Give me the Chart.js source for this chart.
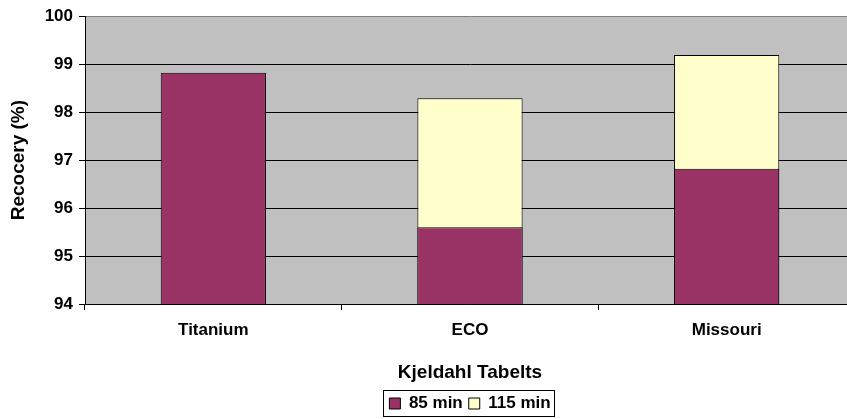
<!DOCTYPE html>
<html lang="en">
<head>
    <meta charset="UTF-8">
    <title>Recovery</title>
    <script src="https://cdn.jsdelivr.net/npm/chart.js"></script>
    <style>
        body { margin: 0; overflow: hidden; background: #fff; }
        #wrap { width: 855px; height: 419px; position: relative; }
    </style>
</head>
<body>
<div id="wrap"><canvas id="recoveryChart"></canvas></div>

<script>
    var tablets = ["Titanium", "ECO", "Missouri"];
    var min85 = [98.82, 95.6, 96.82];
    var min115 = [null, 98.29, 99.19];
    var yTicks = [94, 95, 96, 97, 98, 99, 100];

    var FONT = 'Arial, "Liberation Sans", sans-serif';

    // grey plot area and a framed legend, like the old spreadsheet chart
    var plotBackground = {
        id: 'plotBackground',
        afterLayout: function (chart) {
            // centre the legend under the plot area instead of the whole canvas
            var lg = chart.legend, a = chart.chartArea;
            lg.left = a.left;
            lg.right = a.right;
            lg.top += 5;
            lg.bottom += 5;
        },
        beforeDraw: function (chart) {
            var a = chart.chartArea, ctx = chart.ctx;
            ctx.save();
            ctx.fillStyle = '#c0c0c0';
            ctx.fillRect(a.left, a.top, a.right - a.left, a.bottom - a.top);
            ctx.restore();
        },
        afterDraw: function (chart) {
            var boxes = chart.legend.legendHitBoxes;
            if (!boxes.length) return;
            var last = boxes[boxes.length - 1];
            var l = boxes[0].left, r = last.left + last.width;
            var t = boxes[0].top, h = boxes[0].height;
            var ctx = chart.ctx;
            ctx.save();
            ctx.strokeStyle = '#000';
            ctx.lineWidth = 1;
            ctx.strokeRect(Math.round(l - 6) + 0.5, Math.round(t - 5) + 0.5, Math.round(r - l + 10), Math.round(h + 9));
            ctx.restore();
        }
    };

    var ctx = document.getElementById('recoveryChart').getContext('2d');
    var recoveryChart = new Chart(ctx, {
        type: 'bar',
        data: {
            labels: tablets,
            datasets: [{
                label: '85 min',
                data: min85,
                backgroundColor: '#993366',
                borderColor: '#000',
                borderWidth: 1
            }, {
                label: '115 min',
                data: min115,
                backgroundColor: '#ffffcc',
                borderColor: '#000',
                borderWidth: 1
            }]
        },
        options: {
            responsive: true,
            maintainAspectRatio: false,
            animation: false,
            layout: { padding: { left: 0, right: 0, top: 15, bottom: 2 } },
            datasets: {
                bar: { barPercentage: 0.41, categoryPercentage: 1.0, grouped: false }
            },
            plugins: {
                tooltip: { enabled: false },
                legend: {
                    position: 'bottom',
                    labels: {
                        color: '#000',
                        font: { family: FONT, size: 17, weight: 'bold' },
                        boxWidth: 11,
                        boxHeight: 11,
                        padding: 6
                    }
                }
            },
            scales: {
                x: {
                    stacked: true,
                    afterFit: function (scale) { scale.height = 80; },
                    grid: {
                        offset: true,
                        drawOnChartArea: false,
                        color: '#000',
                        tickLength: 6
                    },
                    border: { color: '#000' },
                    ticks: {
                        color: '#000',
                        padding: 10,
                        font: { family: FONT, size: 17, weight: 'bold' }
                    },
                    title: {
                        display: true,
                        text: 'Kjeldahl Tabelts',
                        color: '#000',
                        padding: { top: 16, bottom: 0 },
                        font: { family: FONT, size: 19, weight: 'bold' }
                    }
                },
                y: {
                    stacked: false,
                    min: 94,
                    max: 100,
                    afterBuildTicks: function (scale) {
                        scale.ticks = yTicks.map(function (v) { return { value: v }; });
                    },
                    afterFit: function (scale) { scale.width = 85; },
                    grid: {
                        color: function (c) { return c.tick && c.tick.value === 100 ? '#808080' : '#000'; },
                        tickColor: '#000',
                        tickLength: 6
                    },
                    border: { color: '#000' },
                    ticks: {
                        color: '#000',
                        padding: 6,
                        font: { family: FONT, size: 17, weight: 'bold' }
                    },
                    title: {
                        display: true,
                        text: 'Recocery (%)',
                        color: '#000',
                        padding: { top: 7, bottom: 0 },
                        font: { family: FONT, size: 19, weight: 'bold' }
                    }
                }
            }
        },
        plugins: [plotBackground]
    });
</script>
</body>
</html>
